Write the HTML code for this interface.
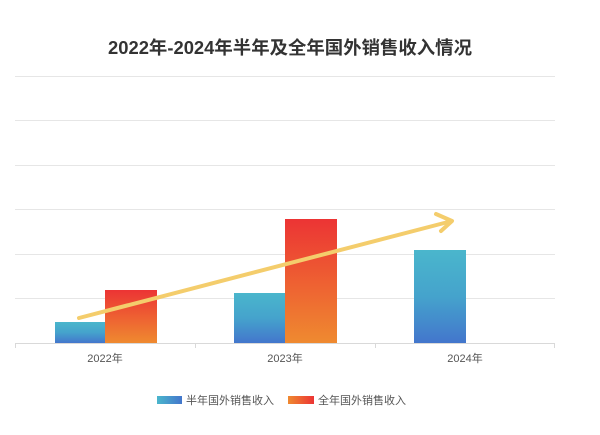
<!DOCTYPE html>
<html><head><meta charset="utf-8"><style>
html,body{margin:0;padding:0;background:#fff;}
svg{display:block;font-family:"Liberation Sans","Noto Sans CJK SC",sans-serif;}
</style></head><body>
<svg width="600" height="435" viewBox="0 0 600 435" xmlns="http://www.w3.org/2000/svg">
<defs>
<linearGradient id="b" x1="0" y1="0" x2="0" y2="1"><stop offset="0" stop-color="#4ab6cc"/><stop offset="0.5" stop-color="#45a3cc"/><stop offset="1" stop-color="#4376cc"/></linearGradient>
<linearGradient id="r" x1="0" y1="0" x2="0" y2="1"><stop offset="0" stop-color="#ec3434"/><stop offset="1" stop-color="#ef8a30"/></linearGradient>
<linearGradient id="bl" x1="0" y1="0" x2="1" y2="0"><stop offset="0" stop-color="#4ab6cc"/><stop offset="1" stop-color="#4376cc"/></linearGradient>
<linearGradient id="rl" x1="0" y1="0" x2="1" y2="0"><stop offset="0" stop-color="#ef8a30"/><stop offset="1" stop-color="#ec3434"/></linearGradient>
</defs>
<text x="290" y="54" text-anchor="middle" font-size="18" font-weight="bold" fill="#333" textLength="364" lengthAdjust="spacingAndGlyphs">2022年-2024年半年及全年国外销售收入情况</text>
<g stroke="#e6e6e6" stroke-width="1">
<line x1="15" y1="76.5" x2="555" y2="76.5"/>
<line x1="15" y1="120.5" x2="555" y2="120.5"/>
<line x1="15" y1="165.5" x2="555" y2="165.5"/>
<line x1="15" y1="209.5" x2="555" y2="209.5"/>
<line x1="15" y1="254.5" x2="555" y2="254.5"/>
<line x1="15" y1="298.5" x2="555" y2="298.5"/>
</g>
<rect x="55" y="322" width="50" height="21" fill="url(#b)"/>
<rect x="105" y="290" width="52" height="53" fill="url(#r)"/>
<rect x="234" y="293" width="51" height="50" fill="url(#b)"/>
<rect x="285" y="219" width="52" height="124" fill="url(#r)"/>
<rect x="414" y="250" width="52" height="93" fill="url(#b)"/>
<g stroke="#d9d9d9" stroke-width="1">
<line x1="15" y1="343.5" x2="555" y2="343.5"/>
<line x1="15.5" y1="343" x2="15.5" y2="348"/>
<line x1="195.5" y1="343" x2="195.5" y2="348"/>
<line x1="375.5" y1="343" x2="375.5" y2="348"/>
<line x1="554.5" y1="343" x2="554.5" y2="348"/>
</g>
<line x1="79" y1="318" x2="448" y2="222" stroke="#f4cd6c" stroke-width="4" stroke-linecap="round"/>
<polyline points="436,214 452,221 441,231" fill="none" stroke="#f4cd6c" stroke-width="4" stroke-linecap="round" stroke-linejoin="round"/>
<g font-size="11" fill="#555" text-anchor="middle">
<text x="105" y="362">2022年</text>
<text x="285" y="362">2023年</text>
<text x="465" y="362">2024年</text>
</g>
<rect x="157" y="396" width="25" height="8" fill="url(#bl)"/>
<text x="186" y="404" font-size="11" fill="#555">半年国外销售收入</text>
<rect x="288" y="396" width="26" height="8" fill="url(#rl)"/>
<text x="318" y="404" font-size="11" fill="#555">全年国外销售收入</text>
</svg>
</body></html>
